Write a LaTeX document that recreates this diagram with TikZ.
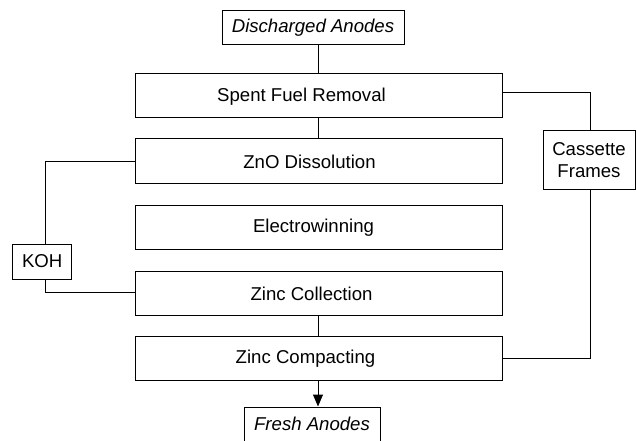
\documentclass[tikz,border=0pt]{standalone}
\usepackage{fontspec}
\setmainfont{Liberation Sans}
\usetikzlibrary{arrows.meta}
\begin{document}
\begin{tikzpicture}[x=1pt,y=-1pt,
  every node/.style={font=\fontsize{18.6}{22}\selectfont, inner sep=0pt, line width=1pt},
  stepbox/.style={draw, minimum width=367pt, minimum height=44pt},
  lbl/.style={draw=none, font=\fontsize{18.6}{22}\selectfont},
  ioBox/.style={draw, font=\fontsize{18.6}{22}\selectfont\itshape},
  conn/.style={line width=1pt}]
\useasboundingbox (0,0) rectangle (637,441);
\node[ioBox, minimum width=182pt, minimum height=34pt] (dis) at (313,28) {Discharged Anodes};
\node[stepbox, label={[lbl, xshift=-17pt, yshift=-1pt]center:Spent Fuel Removal}] (s1) at (318.5,96) {};
\node[stepbox, label={[lbl, xshift=-9pt, yshift=-1pt]center:ZnO Dissolution}] (s2) at (318.5,161) {};
\node[stepbox, label={[lbl, xshift=-5pt, yshift=-1pt]center:Electrowinning}] (s3) at (318.5,227) {};
\node[stepbox, label={[lbl, xshift=-7pt, yshift=-1pt]center:Zinc Collection}] (s4) at (318.5,293) {};
\node[stepbox, label={[lbl, xshift=-13pt, yshift=-1pt]center:Zinc Compacting}] (s5) at (318.5,358) {};
\node[ioBox, minimum width=136pt, minimum height=34pt] (fresh) at (312,424) {Fresh Anodes};
\node[draw, minimum width=59pt, minimum height=35pt] (koh) at (42.2,261.5) {KOH};
\node[draw, minimum width=92pt, minimum height=58pt, align=center] (cas) at (589,160) {Cassette\\Frames};
\coordinate (mx) at (318,0);
\draw[conn] (mx |- dis.south) -- (mx |- s1.north);
\draw[conn] (mx |- s1.south) -- (mx |- s2.north);
\draw[conn] (mx |- s4.south) -- (mx |- s5.north);
\draw[conn, -{Triangle[length=12pt,width=10pt]}] (mx |- s5.south) -- (mx |- fresh.north);
\coordinate (k1) at (45,161);
\coordinate (k2) at (45,292);
\draw[conn] (s2.west) -- (k1) -- (k1 |- koh.north);
\draw[conn] (k2 |- koh.south) -- (k2) -- (s4.west |- k2);
\coordinate (c1) at (590.7,93);
\draw[conn] (s1.east |- c1) -- (c1) -- (c1 |- cas.north);
\draw[conn] (c1 |- cas.south) -- (c1 |- s5.east) -- (s5.east);
\end{tikzpicture}
\end{document}
